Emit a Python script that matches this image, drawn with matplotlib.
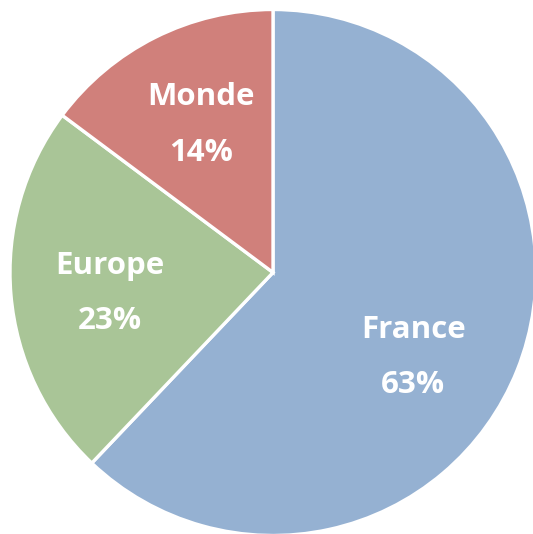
import numpy as np
import matplotlib
matplotlib.use("Agg")
import matplotlib.pyplot as plt

labels = ["France", "Europe", "Monde"]
shares = [62.1, 23.1, 14.8]          # wedge sizes as drawn
pct_labels = ["63%", "23%", "14%"]   # printed percentages
colors = ["#95B1D2", "#A9C597", "#D0807B"]

fig = plt.figure(figsize=(5.33, 5.34), dpi=100)
ax = fig.add_axes([10 / 533, -1.5 / 534, 526 / 533, 526 / 534])

wedges, _ = ax.pie(shares, colors=colors, startangle=90, counterclock=False,
                   radius=1.0, wedgeprops=dict(edgecolor="white", linewidth=2.4))
ax.set_xlim(-1, 1)
ax.set_ylim(-1, 1)
ax.set_aspect("auto")

# label positions: mid angle of each wedge, nudged like the original
shift = {"France": -9.5, "Europe": 2.5, "Monde": -0.8}
for w, name, pct in zip(wedges, labels, pct_labels):
    ang = np.deg2rad((w.theta1 + w.theta2) / 2 + shift[name])
    r = 0.624
    xy = (r * np.cos(ang), r * np.sin(ang))
    for txt, dy in [(name, 20), (pct, -20)]:
        ax.annotate(txt, xy, xytext=(0, dy), textcoords="offset points",
                    ha="center", va="center", color="white", fontsize=22.5,
                    fontweight="bold", family="Open Sans")

fig.savefig("out.png", dpi=100)
